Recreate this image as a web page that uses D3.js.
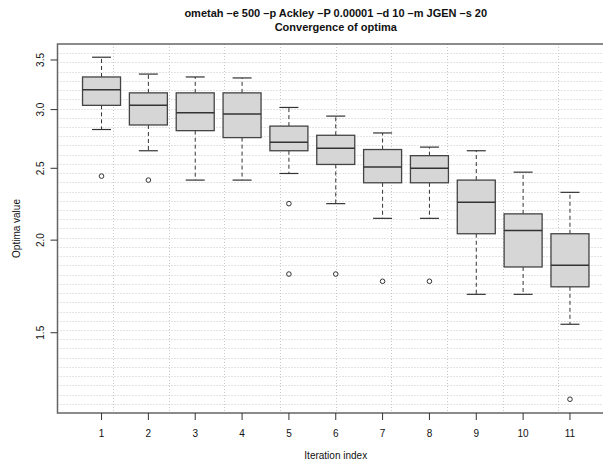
<!DOCTYPE html>
<html>
<head>
<meta charset="utf-8">
<script src="https://cdn.jsdelivr.net/npm/d3@7"></script>
<style>
  body { margin: 0; background: #fff; }
  text { font-family: "Liberation Sans", Arial, sans-serif; fill: #111; }
</style>
</head>
<body>
<div id="chart"></div>
<script>
const iterations = [1, 2, 3, 4, 5, 6, 7, 8, 9, 10, 11];
const lowWhisker = [2.82, 2.64, 2.41, 2.41, 2.46, 2.24, 2.14, 2.14, 1.69, 1.69, 1.54];
const q1 = [3.04, 2.86, 2.81, 2.75, 2.64, 2.53, 2.39, 2.39, 2.04, 1.84, 1.73];
const medians = [3.19, 3.04, 2.97, 2.96, 2.71, 2.66, 2.51, 2.50, 2.25, 2.06, 1.85];
const q3 = [3.32, 3.16, 3.16, 3.16, 2.85, 2.77, 2.65, 2.60, 2.41, 2.17, 2.04];
const highWhisker = [3.53, 3.35, 3.32, 3.31, 3.02, 2.94, 2.79, 2.67, 2.64, 2.47, 2.32];
const outliers = [[2.44], [2.41], [], [], [2.24, 1.80], [1.80], [1.76], [1.76], [], [], [1.22]];
const yTicks = [1.5, 2.0, 2.5, 3.0, 3.5];

const W = 603, H = 463;
const plot = { left: 57.5, right: 614, top: 44, bottom: 413 };

const svg = d3.select("#chart").append("svg")
  .attr("width", W)
  .attr("height", H);

const x = d3.scaleLinear().domain([0.06, 11.94]).range([plot.left, plot.right]);
const y = d3.scaleLog().domain([1.169, 3.678]).range([plot.bottom, plot.top]);

// grid (evenly spaced in plot coordinates, like R's grid())
const gx = d3.range(1, 10).map(i => 0.06 + i * (11.94 - 0.06) / 10);
const lnMin = Math.log(1.169), lnMax = Math.log(3.678);
const gy = d3.range(1, 40).map(i => Math.exp(lnMin + i * (lnMax - lnMin) / 40));

const grid = svg.append("g")
  .attr("stroke", "#c8c8c8")
  .attr("stroke-width", 1)
  .attr("stroke-dasharray", "1 2");
grid.selectAll(".gv").data(gx).join("line")
  .attr("x1", d => Math.round(x(d)) + 0.5).attr("x2", d => Math.round(x(d)) + 0.5)
  .attr("y1", plot.top).attr("y2", plot.bottom);
grid.selectAll(".gh").data(gy).join("line")
  .attr("x1", plot.left).attr("x2", plot.right)
  .attr("y1", d => Math.round(y(d)) + 0.5).attr("y2", d => Math.round(y(d)) + 0.5);

// frame (top, left, bottom; right side falls outside the picture)
svg.append("path")
  .attr("d", `M${plot.right},${plot.top}H${plot.left}V${plot.bottom}H${plot.right}`)
  .attr("fill", "none")
  .attr("stroke", "#666")
  .attr("stroke-width", 1.5);

// boxes
const halfBox = 19, halfCap = 9.5;
const boxes = svg.append("g");
iterations.forEach((it, i) => {
  const cx = x(it);
  const g = boxes.append("g");
  // whiskers
  g.append("line")
    .attr("x1", cx).attr("x2", cx)
    .attr("y1", y(q3[i])).attr("y2", y(highWhisker[i]))
    .attr("stroke", "#333").attr("stroke-dasharray", "4 3");
  g.append("line")
    .attr("x1", cx).attr("x2", cx)
    .attr("y1", y(q1[i])).attr("y2", y(lowWhisker[i]))
    .attr("stroke", "#333").attr("stroke-dasharray", "4 3");
  [highWhisker[i], lowWhisker[i]].forEach(v => {
    g.append("line")
      .attr("x1", cx - halfCap).attr("x2", cx + halfCap)
      .attr("y1", y(v)).attr("y2", y(v))
      .attr("stroke", "#333").attr("stroke-width", 1.2);
  });
  g.append("rect")
    .attr("x", cx - halfBox)
    .attr("y", y(q3[i]))
    .attr("width", halfBox * 2)
    .attr("height", y(q1[i]) - y(q3[i]))
    .attr("fill", "#d6d6d6")
    .attr("stroke", "#444")
    .attr("stroke-width", 1.3);
  g.append("line")
    .attr("x1", cx - halfBox).attr("x2", cx + halfBox)
    .attr("y1", y(medians[i])).attr("y2", y(medians[i]))
    .attr("stroke", "#333").attr("stroke-width", 1.5);
  g.selectAll("circle").data(outliers[i]).join("circle")
    .attr("cx", cx).attr("cy", d => y(d))
    .attr("r", 2.3)
    .attr("fill", "none")
    .attr("stroke", "#333")
    .attr("stroke-width", 1);
});

// x axis
const xa = svg.append("g");
xa.selectAll("line").data(iterations).join("line")
  .attr("x1", d => x(d)).attr("x2", d => x(d))
  .attr("y1", plot.bottom).attr("y2", plot.bottom + 7)
  .attr("stroke", "#333");
xa.selectAll("text").data(iterations).join("text")
  .attr("x", d => x(d)).attr("y", 437)
  .attr("text-anchor", "middle")
  .attr("font-size", 10)
  .text(d => d);

// y axis
const ya = svg.append("g");
ya.selectAll("line").data(yTicks).join("line")
  .attr("x1", plot.left - 7).attr("x2", plot.left)
  .attr("y1", d => y(d)).attr("y2", d => y(d))
  .attr("stroke", "#333");
ya.selectAll("text").data(yTicks).join("text")
  .attr("transform", d => `translate(44,${y(d)}) rotate(-90)`)
  .attr("text-anchor", "middle")
  .attr("font-size", 10)
  .text(d => d3.format(".1f")(d));

// labels
const cxPlot = (plot.left + plot.right) / 2;
svg.append("text")
  .attr("x", cxPlot).attr("y", 459)
  .attr("text-anchor", "middle")
  .attr("font-size", 10)
  .text("Iteration index");
svg.append("text")
  .attr("transform", `translate(20,${(plot.top + plot.bottom) / 2}) rotate(-90)`)
  .attr("text-anchor", "middle")
  .attr("font-size", 10)
  .text("Optima value");
svg.append("text")
  .attr("x", cxPlot).attr("y", 17)
  .attr("text-anchor", "middle")
  .attr("font-size", 11)
  .attr("font-weight", "bold")
  .text("ometah \u2013e 500 \u2013p Ackley \u2013P 0.00001 \u2013d 10 \u2013m JGEN \u2013s 20");
svg.append("text")
  .attr("x", cxPlot).attr("y", 31)
  .attr("text-anchor", "middle")
  .attr("font-size", 11)
  .attr("font-weight", "bold")
  .text("Convergence of optima");
</script>
</body>
</html>
